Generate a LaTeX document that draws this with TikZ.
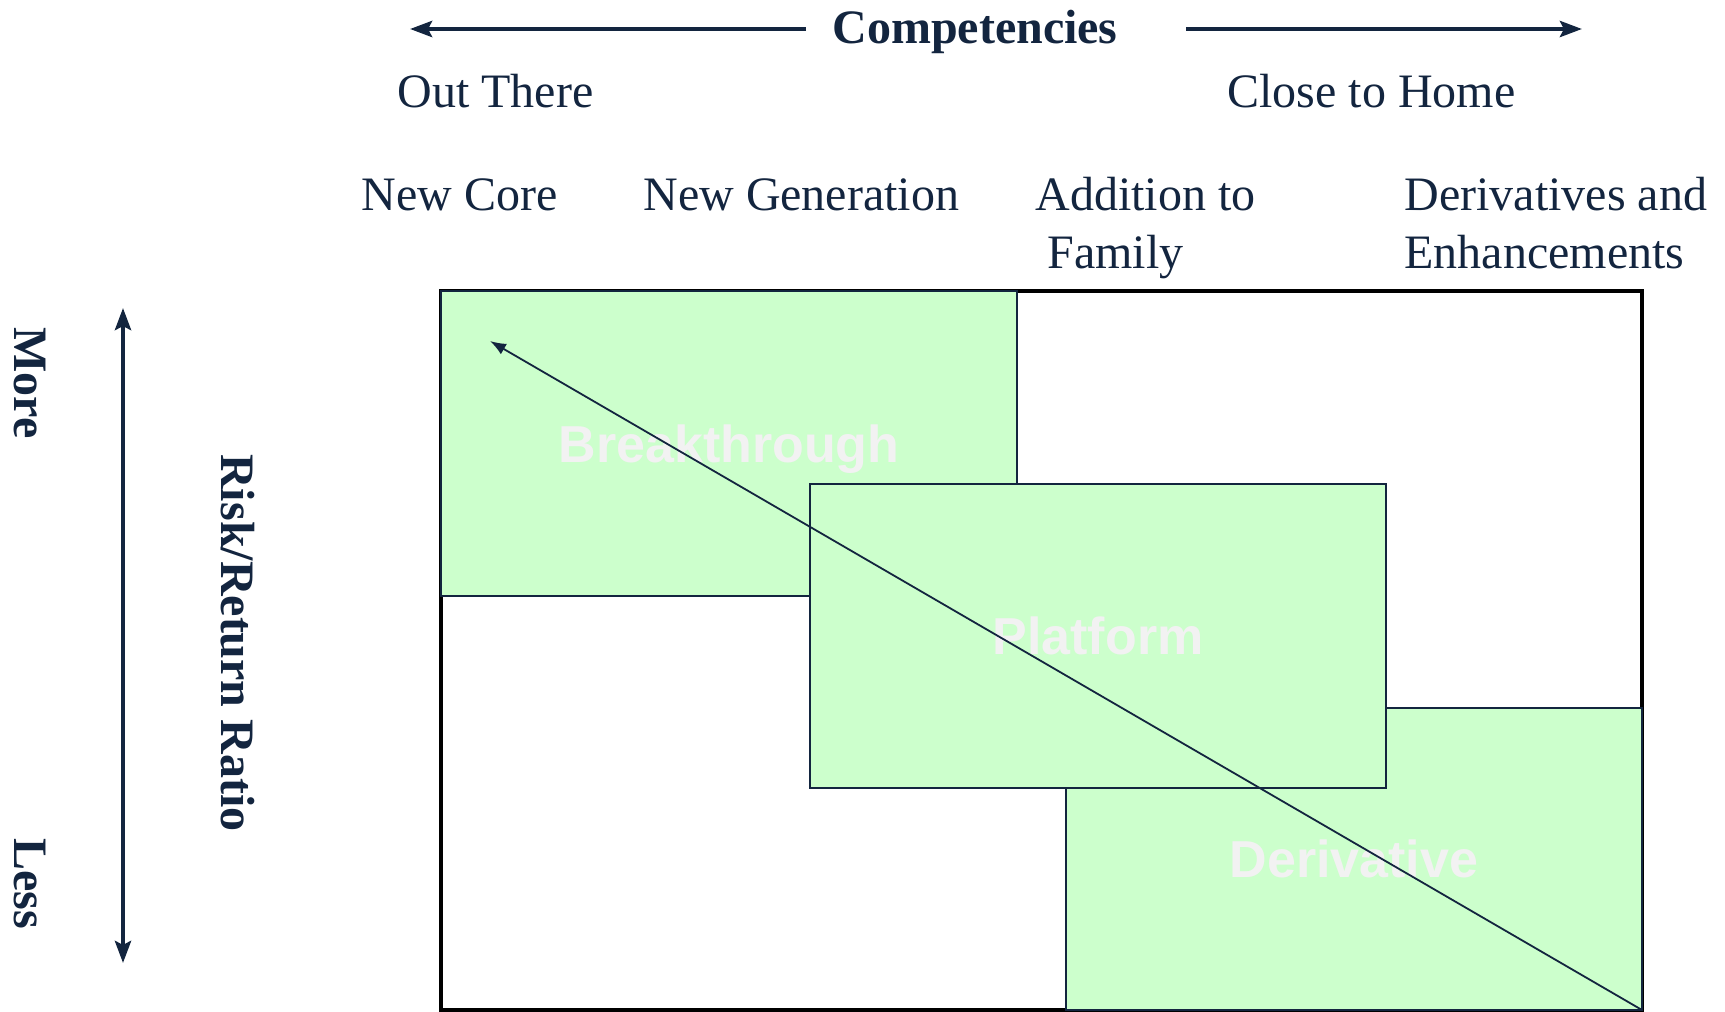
\documentclass[tikz,border=0pt]{standalone}
\usepackage{fontspec}
\setmainfont{Liberation Serif}
\newfontfamily\zonefont{Liberation Sans}
\usetikzlibrary{arrows.meta}
\definecolor{navy}{HTML}{13253F}
\definecolor{palegreen}{HTML}{CCFFCC}
\definecolor{ghost}{HTML}{F2F2F2}
\tikzset{
  txt/.style={inner sep=0pt,text=navy,font=\fontsize{24}{29}\selectfont},
  hd/.style={inner sep=0pt,text=navy,font=\fontsize{24}{29}\selectfont\bfseries},
  zone/.style={draw=navy,line width=1.2pt,fill=palegreen,minimum width=288pt,
    text=ghost,font=\zonefont\fontsize{26}{30}\selectfont\bfseries,
    text height=18.7pt,text depth=0pt},
  axis/.style={navy,line width=2.2pt},
  tip/.tip={Stealth[length=11pt,width=8pt,inset=2pt]}
}
\begin{document}
\begin{tikzpicture}[x=0.5pt,y=-0.5pt]
  \useasboundingbox (0,0) rectangle (1725,1012);
  % competencies axis along the top
  \node[hd,anchor=base] (comp) at (975,43) {Competencies};
  \coordinate (cl0) at (806,29); \coordinate (cl) at (410,29);
  \coordinate (cr0) at (1186,29); \coordinate (cr) at (1582,29);
  \draw[axis,-tip] (cl0) -- (cl);
  \draw[axis,-tip] (cr0) -- (cr);
  \node[txt,anchor=base west] (out) at (397,107) {Out There};
  \node[txt,anchor=base west] (home) at (1227,107) {Close to Home};
  % project types
  \node[txt,anchor=base west] (core) at (361,210) {New Core};
  \node[txt,anchor=base west] (gen) at (643,210) {New Generation};
  \node[txt,anchor=base west] (fam) at (1035,210) {Addition to};
  \node[txt,anchor=base west] (fam2) at (1047,268) {Family};
  \node[txt,anchor=base west] (enh) at (1404,210) {Derivatives and};
  \node[txt,anchor=base west] (enh2) at (1404,268) {Enhancements};
  % risk axis on the left
  \node[hd,rotate=-90] (more) at (30,383) {More};
  \node[hd,rotate=-90] (less) at (30,884) {Less};
  \node[hd,rotate=-90] (ratio) at (238,643) {Risk/Return Ratio};
  \coordinate (rtop) at (123,308); \coordinate (rbot) at (123,963);
  \draw[axis,tip-tip] (rtop) -- (rbot);
  % matrix and the three zones
  \node[draw=black,line width=2pt,outer sep=0pt,minimum width=600.5pt,
    minimum height=359.5pt] (frame) at (1041.5,650.5) {};
  \node[zone,minimum height=152.5pt] (brk) at (729,443.5) {Breakthrough};
  \node[zone,minimum height=151pt] (der) at (1354,859) {Derivative};
  \node[zone,minimum height=152pt] (plat) at (1098,636) {Platform};
  \coordinate (peak) at (490,341);
  \draw[navy,line width=0.9pt,-{Latex[length=8pt,width=6pt]}] (frame.south east) -- (peak);
\end{tikzpicture}
\end{document}
